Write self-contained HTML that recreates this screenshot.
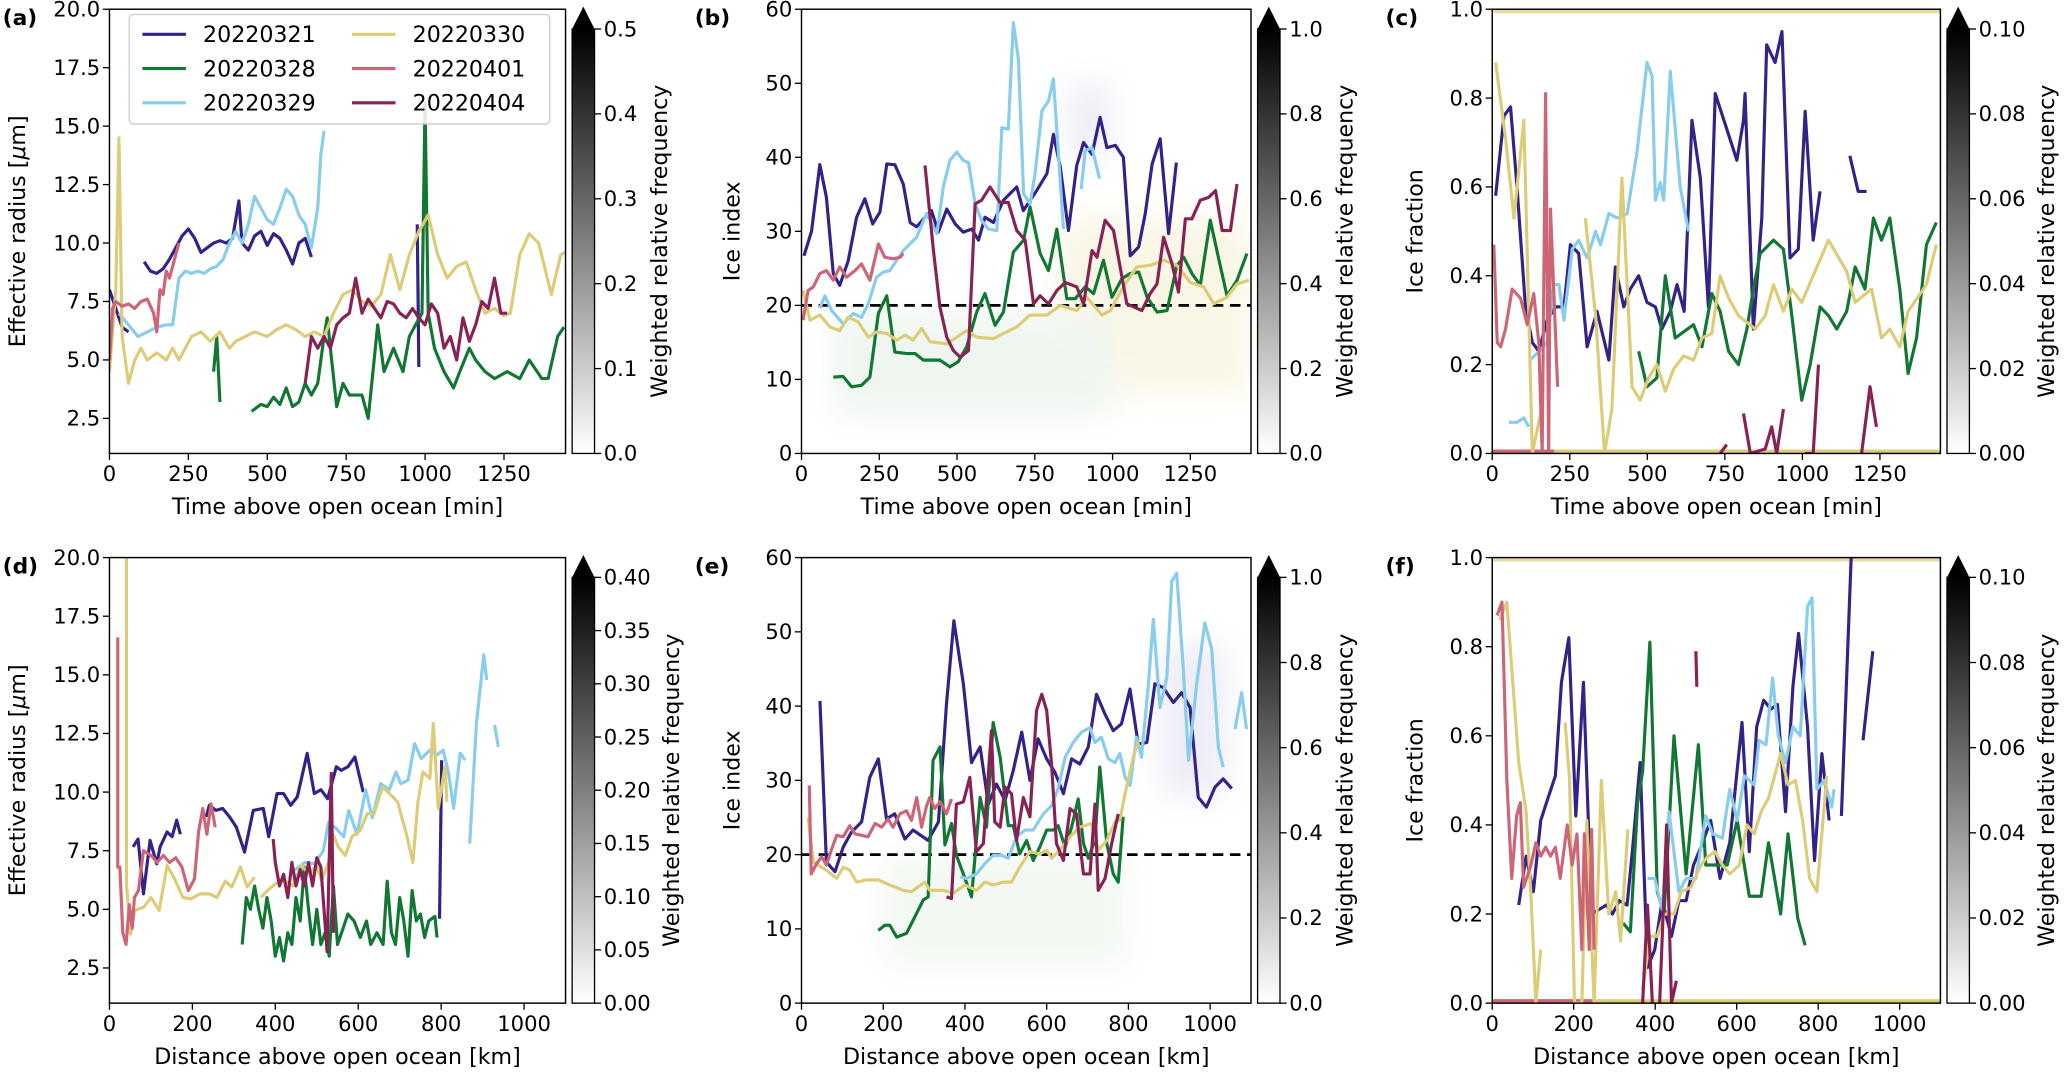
<!DOCTYPE html>
<html><head><meta charset="utf-8">
<style>
html,body{margin:0;padding:0;background:#fff;}
svg{display:block;font-family:"DejaVu Sans","Liberation Sans",sans-serif;}
</style></head>
<body>
<svg id="fig" xmlns="http://www.w3.org/2000/svg" width="2067" height="1073" viewBox="0 0 1568 814">
<defs>
<linearGradient id="cbgrad" x1="0" y1="1" x2="0" y2="0">
<stop offset="0" stop-color="#ffffff"/><stop offset="1" stop-color="#000000"/>
</linearGradient>
<filter id="blur" x="-30%" y="-30%" width="160%" height="160%"><feGaussianBlur stdDeviation="12"/></filter>
</defs>
</svg>
<script>
// ---------- data: panel (a) time vs effective radius ----------
const A321X=[0,20,40,60,null,110,130,150,170,190,210,230,250,270,290,310,330,350,370,390,410,420,440,460,480,500,520,540,560,580,600,620,640,null,975,980];
const A321Y=[8,7.2,6.4,6.2,null,9.2,8.8,8.7,8.9,9.3,9.8,10.3,10.6,10.2,9.6,9.8,10.0,10.1,10.0,10.2,11.8,10.0,9.7,10.3,10.5,9.9,10.4,10.2,9.7,9.1,10.0,10.2,9.4,null,10.8,4.7];
const A328X=[330,340,350,null,450,480,500,520,540,560,580,600,620,640,660,680,690,700,720,740,760,800,820,850,870,900,930,950,970,990,1000,1010,1030,1060,1090,1110,1140,1160,1190,1220,1260,1300,1330,1370,1390,1420,1440];
const A328Y=[4.5,6.0,3.2,null,2.8,3.1,3.0,3.4,3.1,3.8,3.0,3.2,4.0,3.5,4.0,6.0,6.8,5.5,3.0,4.0,3.5,3.5,2.5,6.5,4.5,5.5,4.5,6.0,6.5,7.0,16.0,7.0,5.5,4.5,3.8,4.5,5.5,5.0,4.5,4.2,4.5,4.2,5.0,4.2,4.2,6.0,6.4];
const A329X=[30,60,90,120,150,180,200,220,240,260,280,300,320,340,360,380,400,420,440,460,480,500,520,540,560,580,600,620,640,660,670,680];
const A329Y=[7.0,6.5,6.0,6.2,6.4,6.5,6.5,8.5,8.8,8.7,8.8,8.7,8.9,9.0,9.3,10.0,10.5,10.0,10.8,12.0,11.5,11.0,10.8,11.5,12.3,12.0,11.2,10.8,9.8,11.5,13.8,14.8];
const A330X=[0,20,30,40,60,80,100,120,150,180,200,220,240,260,290,320,350,380,400,430,460,500,530,560,590,620,650,680,710,740,770,800,830,860,890,920,950,980,1010,1040,1070,1100,1130,1160,1190,1220,1250,1270,1300,1330,1360,1400,1430,1445];
const A330Y=[4.5,8,14.5,6,4,5,5.5,5,5.3,5.0,5.5,5.0,5.5,6.0,6.2,5.8,6.2,5.5,5.8,6.0,6.2,6.0,6.3,6.5,6.3,6.0,6.2,6.0,7.0,7.8,8.0,7.5,7.3,7.8,9.5,8.0,9.5,10.5,11.2,9.5,8.5,9.0,9.2,8.0,7.0,7.2,6.9,7.0,9.5,10.4,10.0,7.8,9.5,9.6];
const A401X=[0,10,20,40,60,80,100,120,140,150,160,170,180,190,200,210,220];
const A401Y=[5,7.2,7.5,7.3,7.4,7.2,7.5,7.6,7.0,6.2,8.0,7.8,8.8,8.5,9.0,9.5,10.0];
const A404X=[620,640,660,680,700,720,740,760,780,800,820,840,860,880,900,920,940,960,980,1000,1020,1040,1060,1080,1100,1120,1140,1160,1180,1200,1220,1240,1260];
const A404Y=[4,6,5.5,6,5.5,6.5,6.8,7.0,8.5,7.0,7.6,7.2,6.8,7.5,7.4,7.0,6.8,7.2,6.8,6.5,7.4,7.0,5.5,6.0,5.0,6.8,5.8,6.5,7.5,7.2,8.5,7.0,7.0];
// ---------- panel (b) time vs ice index ----------
const B321X=[8,32,59,80,102,123,150,177,204,229,252,274,300,327,349,370,397,418,440,467,494,520,547,569,590,617,649,692,713,756,789,810,832,858,885,907,934,960,982,1009,1035,1057,1084,1105,1127,1153,1180,1205];
const B321Y=[26.7,30,39,34.6,24.3,22.7,26,31.9,34.4,31,32.6,39.1,39,36.4,31.2,30.6,31.9,32.8,29.9,33,31,29.9,30.3,28.8,31.9,31.2,34.2,36,32.8,35.5,37.8,43.1,38.7,30.1,38.9,42,40.4,45.4,41.3,41.6,40,26.7,27.9,32.4,39.1,42.5,29.7,39.3];
const B328X=[102,134,161,193,220,247,274,300,338,365,392,445,477,504,531,563,590,622,649,681,714,735,767,794,821,853,880,912,939,971,998,1030,1057,1084,1111,1143,1175,1207,1229,1255,1282,1314,1341,1368,1400,1432];
const B328Y=[10.3,10.4,9,9.2,10.3,18.9,21.3,13.7,13.5,13.5,12.6,12.6,11.7,12.4,14.4,19.1,21.6,17.3,19.1,27.2,28.8,33.3,27,24.7,30.3,20.9,20.9,22.5,21.6,26.1,21.1,23.6,24.3,24.5,21.1,19.1,19.3,25.4,26.5,24.3,22.7,31.5,26.3,21.3,23.4,27];
const B329X=[59,75,97,134,166,193,215,241,263,284,306,327,370,402,435,456,477,499,520,537,558,579,601,628,644,665,681,697,714,735,751,773,794,810,842,null,899,912,934,958];
const B329Y=[19.6,21.3,19.3,17.5,18.9,18.4,20.2,23.8,24.5,24.7,26.1,27.4,29.2,32.4,29.7,36,39.6,40.7,39.6,39.3,33.7,31.5,30.3,30.1,44,43.8,58.2,53.3,35.1,33.7,37.8,46.3,47.6,50.6,30.3,null,35.7,40.9,41.3,37.1];
const B330X=[5,27,59,91,123,150,182,215,241,274,306,333,359,386,413,467,499,531,563,617,649,692,735,789,832,885,917,966,993,1035,1078,1121,1164,1207,1250,1293,1325,1368,1400,1438];
const B330Y=[22,18,18.7,17.1,16.6,18.4,17.8,15.7,16.4,16.2,15.3,16,15.3,16.9,15.1,14.8,15.7,16.6,15.7,15.5,16.2,17.1,18.7,18.7,20,19.3,21.1,18.7,19.3,22.5,25.2,25.4,26.1,25.4,23.1,22.5,20.2,21.1,22.9,23.4];
const B401X=[5,21,38,59,80,102,123,145,172,193,220,247,268,295,317,327];
const B401Y=[18,22,22.5,24.3,24.7,23.4,25.2,23.8,24.7,25.6,23.4,28.3,26.5,26.3,26.5,27];
const B404X=[397,424,445,467,488,510,537,558,579,606,638,665,692,719,746,767,794,821,848,885,907,934,950,976,1003,1046,1094,1121,1143,1164,1191,1212,1234,1255,1282,1309,1331,1352,1379,1400];
const B404Y=[38.9,27.4,19.8,15.7,13.9,13,13.9,33.7,34.2,36,33.9,33.9,30.1,28.8,20.2,21.3,20.2,22,23.1,22.5,20.2,27.4,26.5,31.5,30.1,20.2,19.3,21.6,22.9,29.2,25.6,21.8,31.7,31.7,34.2,34.6,35.5,30.1,30.1,36.4];
// ---------- panel (c) time vs ice fraction ----------
const C321X=[11,38,59,80,107,129,150,177,204,231,252,279,306,338,376,397,424,445,472,499,526,547,574,596,619,644,671,697,719,789,810,815,842,869,885,912,934,960,987,1009,1035,1057,null,1153,1180,1207];
const C321Y=[.58,.76,.78,.60,.33,.25,.23,.30,.33,.33,.47,.45,.24,.32,.21,.42,.33,.37,.40,.34,.33,.28,.32,.38,.32,.75,.62,.33,.81,.66,.75,.81,.28,.53,.92,.88,.95,.44,.46,.77,.48,.59,null,.67,.59,.59];
const C328X=[472,499,531,558,590,649,676,708,735,762,794,821,842,864,907,939,966,998,1025,1057,1084,1111,1143,1170,1202,1229,1255,1282,1314,1341,1368,1400,1432];
const C328Y=[.23,.15,.17,.40,.26,.29,.24,.36,.32,.23,.20,.28,.37,.45,.48,.46,.31,.12,.20,.33,.31,.28,.32,.42,.37,.53,.48,.53,.37,.18,.26,.47,.52];
const C329X=[54,80,102,118,null,123,150,177,199,215,231,258,279,306,333,349,376,402,435,467,499,515,526,542,553,574,606,633];
const C329Y=[.07,.07,.08,.06,null,.21,.23,.25,.38,.38,.30,.46,.48,.44,.50,.47,.54,.53,.54,.68,.88,.85,.57,.61,.57,.86,.60,.50];
const C330X=[11,43,70,102,129,156,null,300,333,362,386,418,451,477,504,531,558,585,617,649,676,708,735,762,794,848,880,907,939,966,998,1041,1084,1143,1170,1223,1255,1282,1314,1341,1400,1432];
const C330Y=[.88,.71,.53,.75,0,.09,null,.53,.31,0,.10,.62,.15,.12,.17,.20,.14,.19,.22,.21,.26,.27,.40,.35,.31,.28,.31,.38,.32,.37,.34,.41,.48,.41,.34,.37,.26,.28,.24,.32,.38,.47];
const C401X=[5,16,27,43,64,91,113,134,150,161,172,182,188,211];
const C401Y=[.47,.25,.24,.28,.37,.35,.29,.36,.25,0,.81,0,.55,.15];
const C404X=[735,756,null,810,832,880,901,917,939,null,1009,1035,1052,null,1191,1218,1239];
const C404Y=[0,.02,null,.09,0,.01,.06,0,.10,null,0,0,.2,null,0,.15,.06];
// ---------- panel (d) distance vs effective radius ----------
const D321X=[57,69,82,98,114,122,139,151,162,171,null,233,241,257,273,290,306,326,347,371,384,404,420,437,453,477,494,510,526,547,559,575,592,612,null,796,801];
const D321Y=[7.66,8.0,5.66,7.94,6.94,7.66,8.3,8.1,8.8,8.2,null,8.94,9.44,9.22,9.3,8.94,8.5,7.44,9.22,9.3,8.1,9.94,9.94,9.44,9.8,11.65,9.94,10.1,9.72,11.08,10.93,11.08,11.5,10.0,null,4.6,11.36];
const D328X=[320,330,340,350,360,370,380,390,400,410,420,430,440,450,460,470,480,490,500,510,520,530,540,550,560,575,590,605,620,630,645,660,670,680,690,700,710,720,730,740,750,760,770,785,790];
const D328Y=[3.5,5.5,5.0,6.0,5.0,4.2,5.5,4.5,3.0,3.8,2.8,4.0,3.5,5.5,4.5,6.8,5.0,3.5,5.0,3.5,4.0,3.0,6.0,3.5,4.0,4.8,4.5,3.8,4.5,3.5,4.0,3.5,6.2,4.0,3.5,5.5,4.5,3.0,5.8,4.5,4.8,3.8,4.5,4.7,3.8];
const D329X=[445,471,495,516,528,544,565,577,597,618,634,654,675,691,703,720,736,752,773,789,805,818,830,846,858,null,869,885,903,910,null,929,938];
const D329Y=[6.66,7.0,6.94,7.5,8.7,8.5,8.1,9.2,8.2,10.1,8.9,10.36,10.1,10.86,10.36,10.5,12.07,11.43,11.79,11.58,11.79,10.79,9.3,11.65,11.36,null,7.8,12.93,15.85,14.78,null,12.86,11.93];
const D330X=[41,41,51,61,83,100,120,139,157,177,197,218,242,259,279,295,316,332,350,null,365,381,401,422,442,463,483,499,512,528,540,552,569,585,605,622,638,659,679,695,716,732,744,756,773,781,793,809,814];
const D330Y=[20,6.1,3.95,4.95,5.1,5.5,4.95,6.87,6.3,5.5,5.45,5.66,5.66,5.5,6.2,5.95,6.8,5.95,6.37,null,5.5,5.8,6.1,6.23,6.0,6.87,6.5,6.87,6.23,7.0,8.15,7.66,7.3,8.1,8.37,9.08,9.08,10.22,9.87,9.58,8.23,7.0,9.58,10.86,10.58,12.93,9.3,11.08,9.58];
const D401X=[20,20,25,32,40,48,55,60,70,82,100,115,130,145,160,175,190,205,215,225,235,245,255];
const D401Y=[16.6,6.8,6.8,4.0,3.5,5.2,4.2,5.5,5.8,7.5,7.3,7.0,7.3,7.0,7.2,6.8,5.8,6.3,8.3,9.3,8.2,9.5,8.5];
const D404X=[395,400,410,420,430,440,450,460,470,480,490,500,510,525,535,540];
const D404Y=[8.0,7.0,6.0,6.5,5.5,7.0,6.0,6.7,6.0,7.0,6.0,7.2,6.8,3.2,10.8,4.0];
// ---------- panel (e) distance vs ice index ----------
const E321X=[45,61,82,102,122,147,167,188,208,228,253,273,310,335,355,373,396,416,437,457,477,498,518,539,559,579,600,620,641,661,681,702,722,743,763,783,804,824,845,865,885,910,930,951,971,991,1012,1032,1053];
const E321Y=[40.7,19,17.7,21,23,24.4,30.4,32.9,24.8,25.5,22.1,23.3,21.9,24.4,40.3,51.5,43,32.4,34.5,26.8,29.5,27.3,31.3,36.5,30,35.6,32.9,31.1,28.2,32.9,32.2,34.5,41.6,38.9,36.7,37.6,42.3,34.9,35.1,43,42.5,40.5,41.8,39.8,27.7,26.4,29.1,30.2,28.9];
const E328X=[188,204,216,233,257,277,298,310,322,339,351,367,379,396,416,437,453,469,486,506,518,534,551,567,583,600,616,628,645,661,677,690,702,718,730,747,763,775,787];
const E328Y=[9.8,10.5,10.5,8.9,9.4,11.6,13.9,14.3,32.7,34.5,21.3,24.2,19.9,17.4,14.3,27.7,23.7,37.8,33.1,23.9,23.9,20.1,21.9,19.2,21,23.3,23.3,23.9,21,23.7,27.5,21.5,19.5,21.9,31.8,21.5,17.4,16.3,25.1];
const E329X=[388,404,428,449,469,490,506,526,547,567,592,612,628,645,665,685,706,718,734,751,767,779,792,804,820,832,849,861,877,894,906,918,934,947,967,987,1004,1020,1032,null,1061,1077,1089];
const E329Y=[17,16.8,17.4,18.8,19.9,19.9,19.5,22.4,23.3,23.3,25.5,26.6,28.9,33.1,35.1,36.5,37.1,35.1,35.8,32.9,32.4,33.6,30.4,29.3,35.8,33.1,43,51.7,39.8,43.8,56.8,57.9,45.4,32.7,43,51.2,47.7,34.5,31.8,null,36.9,41.8,36.9];
const E330X=[16,29,61,86,102,118,135,159,188,216,249,269,286,302,314,347,371,400,428,449,469,494,514,534,559,583,600,612,632,657,681,710,726,747,767,779,792,812,824];
const E330Y=[25,19,17.9,16.8,18.3,17.9,16.3,16.6,16.6,15.9,15.2,15,15.7,16.3,15.2,15.2,14.8,15.9,15.2,16.3,15.9,16.3,16.3,18.3,20.4,20.1,20.6,19.5,20.6,22.4,23.7,24.2,20.6,21.9,24.4,24.6,28.2,33.1,35.3];
const E401X=[19,24,37,49,61,73,86,102,118,131,147,163,180,196,212,224,241,257,269,282,294,306,314,326,339,355,367];
const E401Y=[29.3,17.4,18.8,19.7,18.6,20.6,22.6,22.4,23.9,22.8,22.6,22.4,24.2,23.7,24.8,23.7,25.5,25.9,24.6,27.7,23.7,26.6,27.7,26.2,27.1,25.5,27.5];
const E404X=[355,367,379,396,412,428,445,465,473,486,498,514,526,543,559,575,588,600,612,624,641,657,673,690,706,718,726,743,759,775];
const E404Y=[14.3,14.1,26.8,27.1,30.4,20.4,21.5,36.7,24.4,23.7,29.1,28.2,21.9,27.7,25.1,39.4,41.6,39.4,32.2,21.5,19.2,26.2,25.5,17.4,17.4,26.8,15.2,16.8,21.5,25.5];
// ---------- panel (f) distance vs ice fraction ----------
const F321X=[65,83,101,119,137,155,170,188,205,224,244,262,280,295,312,331,345,363,381,399,417,440,458,476,494,512,536,559,583,613,631,649,666,684,700,720,738,752,774,791,809,827,null,857,881,null,910,934];
const F321Y=[.22,.33,.25,.41,.46,.51,.72,.82,.42,.72,.20,.21,.22,.20,.23,.22,.35,.54,.08,.12,.23,.15,.23,.23,.31,.35,.41,.28,.36,.63,.34,.62,.68,.66,.67,.43,.71,.83,.62,.32,.56,.41,null,.42,1.0,null,.59,.79];
const F328X=[321,339,357,369,387,405,422,446,476,506,524,547,577,601,631,660,678,708,726,750,768];
const F328Y=[.18,.16,.45,.52,.81,.25,.20,.60,.29,.58,.31,.31,.31,.41,.24,.24,.36,.20,.38,.19,.13];
const F329X=[381,399,417,434,458,476,500,524,541,565,583,601,619,643,655,672,688,702,720,738,756,774,785,797,815,833,839];
const F329Y=[.28,.28,.21,.43,.25,.28,.28,.42,.38,.37,.48,.41,.51,.49,.59,.58,.73,.60,.54,.62,.60,.89,.91,.48,.50,.44,.48];
const F330X=[18,36,65,83,95,107,119,null,179,190,202,220,232,250,268,286,303,315,333,null,369,387,405,422,446,464,488,512,530,547,565,583,607,625,643,660,678,708,726,744,762,779,797,821];
const F330Y=[.86,.90,.54,.43,.24,0,.12,null,.63,.50,0,0,.41,0,.50,.20,.25,.14,.39,null,.03,.15,.15,.20,.20,.25,.26,.31,.33,.34,.31,.29,.31,.40,.38,.43,.46,.56,.49,.50,.41,.28,.25,.51];
const F401X=[12,24,36,48,60,69,77,95,107,119,131,143,155,167,184,196,208,220,226,238,244,250];
const F401Y=[.87,.90,.50,.28,.42,.45,.26,.31,.36,.33,.35,.33,.35,.28,.40,.31,.38,.12,.38,.12,.39,.12];
const F404X=[369,381,393,null,411,428,440,452,null,500,502];
const F404Y=[0,.22,0,null,0,.40,0,.05,null,.79,.71];
// ---------- colorbars ----------
const CB_A=[0,0.1,0.2,0.3,0.4,0.5];
const CB_B=[0,0.2,0.4,0.6,0.8,1.0];
const CB_C=[0,0.02,0.04,0.06,0.08,0.10];
const CB_D=[0,0.05,0.10,0.15,0.20,0.25,0.30,0.35,0.40];
const CB_E=[0,0.2,0.4,0.6,0.8,1.0];
const CB_F=[0,0.02,0.04,0.06,0.08,0.10];
const TICKS_TIME=[0,250,500,750,1000,1250];
const TICKS_DIST=[0,200,400,600,800,1000];
const TICKS_REFF=[2.5,5.0,7.5,10.0,12.5,15.0,17.5,20.0];
const TICKS_IDX=[0,10,20,30,40,50,60];
const TICKS_FRAC=[0,0.2,0.4,0.6,0.8,1.0];
const SERIES_NAMES=['20220321','20220328','20220329','20220330','20220401','20220404'];

const COLORS={'20220321':'#332288','20220328':'#117733','20220329':'#88CCEE','20220330':'#DDCC77','20220401':'#CC6677','20220404':'#882255'};
const NS='http://www.w3.org/2000/svg';
const svg=document.getElementById('fig');
function mk(tag,attrs,parent){const e=document.createElementNS(NS,tag);for(const k in attrs)e.setAttribute(k,attrs[k]);(parent||svg).appendChild(e);return e;}

const TOP=[7,344],BOT=[423,761];
const panels=[
 {id:'a',x0:83,x1:429,y:TOP,xr:[0,1445],yr:[1,20],xt:TICKS_TIME,yt:TICKS_REFF,yd:1,xl:'Time above open ocean [min]',yl:'reff',cb:CB_A,cbd:1,cbo:55,s:[[A321X,A321Y],[A328X,A328Y],[A329X,A329Y],[A330X,A330Y],[A401X,A401Y],[A404X,A404Y]],ylx:64},
 {id:'b',x0:608,x1:949,y:TOP,xr:[0,1445],yr:[0,60],xt:TICKS_TIME,yt:TICKS_IDX,yd:0,xl:'Time above open ocean [min]',yl:'Ice index',cb:CB_B,cbd:1,cbo:55,dash:20,s:[[B321X,B321Y],[B328X,B328Y],[B329X,B329Y],[B330X,B330Y],[B401X,B401Y],[B404X,B404Y]],ylx:47},
 {id:'c',x0:1132,x1:1472,y:TOP,xr:[0,1445],yr:[0,1],xt:TICKS_TIME,yt:TICKS_FRAC,yd:1,xl:'Time above open ocean [min]',yl:'Ice fraction',cb:CB_C,cbd:2,cbo:64,band:1,s:[[C321X,C321Y],[C328X,C328Y],[C329X,C329Y],[C330X,C330Y],[C401X,C401Y],[C404X,C404Y]],ylx:53},
 {id:'d',x0:83,x1:429,y:BOT,xr:[0,1100],yr:[1,20],xt:TICKS_DIST,yt:TICKS_REFF,yd:1,xl:'Distance above open ocean [km]',yl:'reff',cb:CB_D,cbd:2,cbo:64,s:[[D321X,D321Y],[D328X,D328Y],[D329X,D329Y],[D330X,D330Y],[D401X,D401Y],[D404X,D404Y]],ylx:64},
 {id:'e',x0:608,x1:949,y:BOT,xr:[0,1100],yr:[0,60],xt:TICKS_DIST,yt:TICKS_IDX,yd:0,xl:'Distance above open ocean [km]',yl:'Ice index',cb:CB_E,cbd:1,cbo:55,dash:20,s:[[E321X,E321Y],[E328X,E328Y],[E329X,E329Y],[E330X,E330Y],[E401X,E401Y],[E404X,E404Y]],ylx:47},
 {id:'f',x0:1132,x1:1472,y:BOT,xr:[0,1100],yr:[0,1],xt:TICKS_DIST,yt:TICKS_FRAC,yd:1,xl:'Distance above open ocean [km]',yl:'Ice fraction',cb:CB_F,cbd:2,cbo:64,band:1,s:[[F321X,F321Y],[F328X,F328Y],[F329X,F329Y],[F330X,F330Y],[F401X,F401Y],[F404X,F404Y]],ylx:53}
];

panels.forEach(p=>{
 const g=mk('g',{});
 
 
 const [y0,y1]=p.y;
 const sx=v=>p.x0+(v-p.xr[0])/(p.xr[1]-p.xr[0])*(p.x1-p.x0);
 const sy=v=>y1-(v-p.yr[0])/(p.yr[1]-p.yr[0])*(y1-y0);
 const clipId='clip'+p.id;
 const cp=mk('clipPath',{id:clipId},g);mk('rect',{x:p.x0,y:y0,width:p.x1-p.x0,height:y1-y0},cp);
 const plot=mk('g',{'clip-path':'url(#'+clipId+')'},g);
 
 
 if(p.yl==='Ice index'){
  const hm=mk('g',{filter:'url(#blur)',opacity:0.22},plot);
  
  
  if(p.id==='b'){
   mk('rect',{x:sx(820),y:sy(32),width:sx(1445)-sx(820),height:sy(8)-sy(32),fill:'#e8d890'},hm);
   mk('rect',{x:sx(100),y:sy(19),width:sx(1000)-sx(100),height:sy(5)-sy(19),fill:'#b8d8bc'},hm);
   mk('rect',{x:sx(860),y:sy(50),width:sx(990)-sx(860),height:sy(40)-sy(50),fill:'#b0a8d8'},hm);
  } else {
   mk('rect',{x:sx(200),y:sy(20),width:sx(800)-sx(200),height:sy(5)-sy(20),fill:'#c8e0c4'},hm);
   mk('rect',{x:sx(880),y:sy(48),width:sx(1040)-sx(880),height:sy(28)-sy(48),fill:'#b0a8d8'},hm);
  }
 }
 if(p.band){
  const bd=mk('g',{},plot);
  
  
  mk('rect',{x:p.x0,y:y1-3,width:p.x1-p.x0,height:3,fill:'#DDCC77'},bd);
  mk('rect',{x:p.x0,y:y1-3,width:sx(p.id==='c'?200:250)-p.x0,height:3,fill:'#CC6677'},bd);
  mk('rect',{x:p.x0,y:y0,width:p.x1-p.x0,height:3,fill:'#DDCC77',opacity:0.7},bd);
 }
 if(p.dash!==undefined){
  const dl=mk('line',{x1:p.x0,x2:p.x1,y1:sy(p.dash),y2:sy(p.dash),stroke:'#000','stroke-width':2,'stroke-dasharray':'8,5'},plot);
  
  
 }
 p.s.forEach((pair,i)=>{
  const [X,Y]=pair;let d='',pen=false;
  for(let k=0;k<X.length;k++){
   if(X[k]===null||Y[k]===null){pen=false;continue;}
   d+=(pen?'L':'M')+sx(X[k]).toFixed(1)+','+sy(Y[k]).toFixed(1);pen=true;
  }
  const path=mk('path',{d:d,fill:'none',stroke:COLORS[SERIES_NAMES[i]],'stroke-width':2.4,'stroke-linejoin':'round'},plot);
  
  
 });
 const fr=mk('rect',{x:p.x0,y:y0,width:p.x1-p.x0,height:y1-y0,fill:'none',stroke:'#000','stroke-width':1.1},g);
 
 
 p.xt.forEach(t=>{
  const X=sx(t);
  mk('line',{x1:X,x2:X,y1:y1,y2:y1+5,stroke:'#000','stroke-width':1},g);
  const tx=mk('text',{x:X,y:y1+21,'font-size':16,'text-anchor':'middle'},g);
  tx.textContent=t;
  
  
 });
 p.yt.forEach(t=>{
  const Y=sy(t);
  mk('line',{x1:p.x0-5,x2:p.x0,y1:Y,y2:Y,stroke:'#000','stroke-width':1},g);
  const tx=mk('text',{x:p.x0-7,y:Y+5.5,'font-size':16,'text-anchor':'end'},g);
  tx.textContent=t.toFixed(p.yd);
  
  
 });
 const xl=mk('text',{x:(p.x0+p.x1)/2,y:y1+46,'font-size':16.8,'text-anchor':'middle'},g);
 xl.textContent=p.xl;
 
 
 const cy=(y0+y1)/2, lx=p.x0-p.ylx;
 const yl=mk('text',{x:lx,y:cy,'font-size':16.8,'text-anchor':'middle',transform:'rotate(-90 '+lx+' '+cy+')'},g);
 if(p.yl==='reff'){yl.innerHTML='Effective radius [<tspan font-style="italic">μ</tspan>m]';}
 else yl.textContent=p.yl;
 
 
 const pl=mk('text',{x:p.x0-81,y:y0+12,'font-size':16.5,'font-weight':'bold'},g);
 pl.textContent='('+p.id+')';
 
 
 const cbx=p.x1+5,cbw=17,cbt=y0+15,cbb=y1;
 const cbg=mk('g',{},g);
 
 
 mk('rect',{x:cbx,y:cbt,width:cbw,height:cbb-cbt,fill:'url(#cbgrad)',stroke:'#000','stroke-width':1},cbg);
 mk('polygon',{points:cbx+','+cbt+' '+(cbx+cbw)+','+cbt+' '+(cbx+cbw/2)+','+(y0-2),fill:'#000'},cbg);
 const cmax=p.cb[p.cb.length-1];
 p.cb.forEach(t=>{
  const Y=cbb-(t/cmax)*(cbb-cbt);
  mk('line',{x1:cbx+cbw,x2:cbx+cbw+5,y1:Y,y2:Y,stroke:'#000','stroke-width':1},cbg);
  const tx=mk('text',{x:cbx+cbw+7,y:Y+5.5,'font-size':16},cbg);
  tx.textContent=t.toFixed(p.cbd);
  
  
 });
 const clx=cbx+cbw+p.cbo, ccy=(cbt+cbb)/2;
 const cl=mk('text',{x:clx,y:ccy,'font-size':16.8,'text-anchor':'middle',transform:'rotate(-90 '+clx+' '+ccy+')'},cbg);
 cl.textContent='Weighted relative frequency';
 
 
});

const lg=mk('g',{});


mk('rect',{x:98,y:11,width:319,height:83,rx:3,fill:'#fff','fill-opacity':0.85,stroke:'#ccc','stroke-width':1},lg);
const legendOrder=[['20220321',0,0],['20220328',0,1],['20220329',0,2],['20220330',1,0],['20220401',1,1],['20220404',1,2]];
legendOrder.forEach(([name,c,r])=>{
 const lx=108+c*159, ly=26+r*26;
 const e=mk('g',{},lg);
 
 
 mk('line',{x1:lx,x2:lx+33,y1:ly,y2:ly,stroke:COLORS[name],'stroke-width':2.4},e);
 const t=mk('text',{x:lx+46,y:ly+6,'font-size':16.8},e);
 t.textContent=name;
});
</script>
</body></html>
